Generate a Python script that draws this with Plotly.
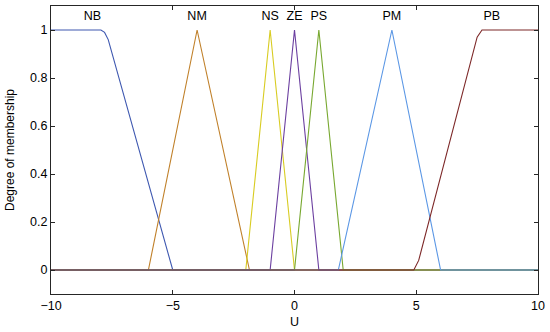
import plotly.graph_objects as go

# Membership functions (x breakpoints, y values)
names = ["NB", "NM", "NS", "ZE", "PS", "PM", "PB"]
colors = ["#3E58B0", "#C0802A", "#D8CC22", "#6B3FA0", "#78A830", "#5B97E5", "#7D2828"]
nb_x = [-10, -7.95, -7.8, -7.65, -5, 10]
nb_y = [1, 1, 0.99, 0.96, 0, 0]
nm_x = [-10, -6, -4, -1.85, 10]
nm_y = [0, 0, 1, 0, 0]
ns_x = [-10, -2, -1, 0, 10]
ns_y = [0, 0, 1, 0, 0]
ze_x = [-10, -1, 0, 1, 10]
ze_y = [0, 0, 1, 0, 0]
ps_x = [-10, 0, 1, 2, 10]
ps_y = [0, 0, 1, 0, 0]
pm_x = [-10, 1.8, 4, 6, 10]
pm_y = [0, 0, 1, 0, 0]
pb_x = [-10, 4.9, 5.1, 7.5, 7.7, 10]
pb_y = [0, 0, 0.04, 0.97, 1, 1]
label_x = [-8.3, -4, -1, 0, 1, 4, 8.1]
label_y = 1.055
x_ticks = [-10, -5, 0, 5, 10]
y_ticks = [0, 0.2, 0.4, 0.6, 0.8, 1]
y_tick_text = ["0", "0.2", "0.4", "0.6", "0.8", "1"]

xs = [nb_x, nm_x, ns_x, ze_x, ps_x, pm_x, pb_x]
ys = [nb_y, nm_y, ns_y, ze_y, ps_y, pm_y, pb_y]

FONT = "Liberation Sans, Arial"

fig = go.Figure()
for n, c, x, y in zip(names, colors, xs, ys):
    fig.add_trace(go.Scatter(x=x, y=y, mode="lines", name=n,
                             line=dict(color=c, width=1.1), showlegend=False))

fig.add_trace(go.Scatter(x=label_x, y=[label_y] * len(names), mode="text",
                         text=names, textposition="middle center",
                         textfont=dict(family=FONT, size=12.5, color="#000"),
                         showlegend=False, cliponaxis=False))

axis_common = dict(showline=True, linecolor="#262626", linewidth=1, mirror="ticks",
                   ticks="inside", ticklen=4, tickcolor="#262626", showgrid=False,
                   zeroline=False, tickfont=dict(family=FONT, size=12.5, color="#000"))

fig.update_layout(
    width=550, height=332,
    margin=dict(l=51, r=11, t=5, b=36),
    paper_bgcolor="white", plot_bgcolor="white",
    xaxis=dict(range=[-10, 10], tickvals=x_ticks,
               title=dict(text="U", font=dict(family=FONT, size=12.5, color="#000"), standoff=5),
               **axis_common),
    yaxis=dict(range=[-0.1, 1.1], tickvals=y_ticks, ticktext=y_tick_text,
               title=dict(text="Degree of membership", font=dict(family=FONT, size=12, color="#000"), standoff=12),
               **axis_common),
)

fig.write_html("out.html", config={"displayModeBar": False},
               post_script="document.body.style.margin='0';document.body.style.overflow='hidden';")
